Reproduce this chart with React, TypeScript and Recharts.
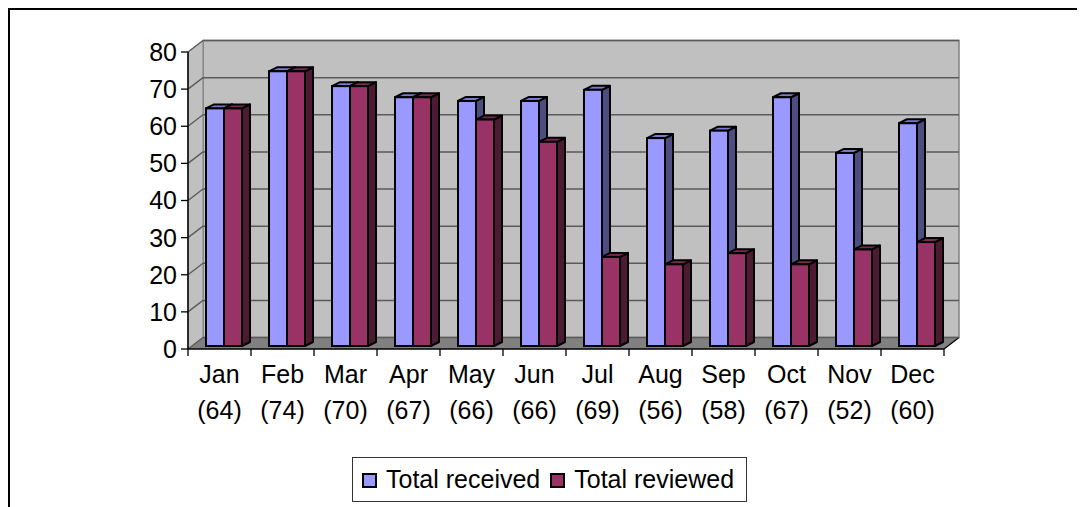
import React from 'react';
import { BarChart, Bar, XAxis, YAxis, CartesianGrid } from 'recharts';

// ---- data ----
const months = ['Jan', 'Feb', 'Mar', 'Apr', 'May', 'Jun', 'Jul', 'Aug', 'Sep', 'Oct', 'Nov', 'Dec'];
const totalReceived = [64, 74, 70, 67, 66, 66, 69, 56, 58, 67, 52, 60];
const totalReviewed = [64, 74, 70, 67, 61, 55, 24, 22, 25, 22, 26, 28];
const yTicks = [0, 10, 20, 30, 40, 50, 60, 70, 80];
const seriesNames = ['Total received', 'Total reviewed'];

const data = months.map((m, i) => ({ month: m, received: totalReceived[i], reviewed: totalReviewed[i] }));

// ---- layout ----
const CHART_W = 1077;
const CHART_H = 499;
const PLOT_LEFT = 180;
const PLOT_TOP = 44;
const PLOT_W = 756;
const PLOT_H = 297;
const YAXIS_W = 60;
const XAXIS_H = 40;
const WALL_DX = 15;
const WALL_DY = -11.5;
const BAR_SHIFT_X = 4;
const BAR_SHIFT_Y = -3;
const BAR_DX = 8;
const BAR_DY = -4;
const FONT = '"Liberation Sans", Arial, sans-serif';
const FONT_SIZE = 25;

const colors = {
  received: { front: '#9999FF', top: '#7A7AD0', side: '#4D4D80' },
  reviewed: { front: '#993366', top: '#7A2952', side: '#4D1A33' },
};

const makeShape = (c: { front: string; top: string; side: string }) => (props: any) => {
  const { x, y, width, height } = props;
  if (width == null || height == null || height <= 0) return <g />;
  const X = x + BAR_SHIFT_X;
  const Y = y + BAR_SHIFT_Y;
  const w = width;
  const h = height;
  const sw = 2;
  return (
    <g>
      <polygon
        points={`${X + w},${Y} ${X + w + BAR_DX},${Y + BAR_DY} ${X + w + BAR_DX},${Y + h + BAR_DY} ${X + w},${Y + h}`}
        fill={c.side}
        stroke="#000"
        strokeWidth={sw}
        strokeLinejoin="round"
      />
      <polygon
        points={`${X},${Y} ${X + BAR_DX},${Y + BAR_DY} ${X + w + BAR_DX},${Y + BAR_DY} ${X + w},${Y}`}
        fill={c.top}
        stroke="#000"
        strokeWidth={sw}
        strokeLinejoin="round"
      />
      <rect x={X} y={Y} width={w} height={h} fill={c.front} stroke="#000" strokeWidth={sw} />
    </g>
  );
};

const ReceivedShape = makeShape(colors.received);
const ReviewedShape = makeShape(colors.reviewed);

const GridLine = (props: any) => {
  const { x1, y1, x2, y2 } = props;
  return (
    <g>
      <line x1={x1} y1={y1} x2={x1 + WALL_DX} y2={y1 + WALL_DY} stroke="#5A5A5A" strokeWidth={1.3} />
      <line x1={x1 + WALL_DX} y1={y1 + WALL_DY} x2={x2 + WALL_DX} y2={y2 + WALL_DY} stroke="#5A5A5A" strokeWidth={1.5} />
    </g>
  );
};

const XTick = (props: any) => {
  const { x, y, payload } = props;
  const i = payload.index != null ? payload.index : months.indexOf(payload.value);
  const band = PLOT_W / months.length;
  return (
    <g>
      <line x1={x - band / 2} y1={y} x2={x - band / 2} y2={y + 7} stroke="#000" strokeWidth={1.3} />
      {i === months.length - 1 && (
        <line x1={x + band / 2} y1={y} x2={x + band / 2} y2={y + 7} stroke="#000" strokeWidth={1.3} />
      )}
      <text x={x} y={y + 34} textAnchor="middle" fontFamily={FONT} fontSize={FONT_SIZE} fill="#000">
        {payload.value}
      </text>
      <text x={x} y={y + 70} textAnchor="middle" fontFamily={FONT} fontSize={FONT_SIZE} fill="#000">
        {`(${totalReceived[i]})`}
      </text>
    </g>
  );
};

const Background3D = () => {
  const L = PLOT_LEFT;
  const T = PLOT_TOP;
  const W = PLOT_W;
  const H = PLOT_H;
  return (
    <svg width={CHART_W} height={CHART_H} style={{ position: 'absolute', left: 0, top: 0 }}>
      <rect x={L + WALL_DX} y={T + WALL_DY} width={W} height={H} fill="#C0C0C0" stroke="#808080" strokeWidth={1.5} />
      <polygon
        points={`${L},${T + H} ${L},${T} ${L + WALL_DX},${T + WALL_DY} ${L + WALL_DX},${T + H + WALL_DY}`}
        fill="#C0C0C0"
        stroke="#808080"
        strokeWidth={1}
      />
      <polygon
        points={`${L},${T + H} ${L + WALL_DX},${T + H + WALL_DY} ${L + W + WALL_DX},${T + H + WALL_DY} ${L + W},${T + H}`}
        fill="#808080"
      />
      <line x1={L + W} y1={T + H} x2={L + W + WALL_DX} y2={T + H + WALL_DY} stroke="#000" strokeWidth={1.3} />
    </svg>
  );
};

const LegendBox = () => {
  const items = [
    { name: seriesNames[0], color: colors.received.front },
    { name: seriesNames[1], color: colors.reviewed.front },
  ];
  return (
    <div
      style={{
        position: 'absolute',
        left: 344,
        top: 449,
        width: 395,
        height: 45,
        border: '1px solid #333',
        boxSizing: 'border-box',
        display: 'flex',
        alignItems: 'center',
        paddingLeft: 9,
        fontFamily: FONT,
        fontSize: FONT_SIZE,
        color: '#000',
        background: '#fff',
        zIndex: 2,
      }}
    >
      {items.map((it, k) => (
        <div key={it.name} style={{ display: 'flex', alignItems: 'center', marginRight: k === 0 ? 10 : 0 }}>
          <div
            style={{
              width: 15,
              height: 15,
              background: it.color,
              border: '2px solid #000',
              boxSizing: 'border-box',
              marginRight: 9,
              marginTop: 2,
            }}
          />
          <span style={{ whiteSpace: 'nowrap', lineHeight: '25px' }}>{it.name}</span>
        </div>
      ))}
    </div>
  );
};

export default function App() {
  return (
    <div style={{ position: 'relative', width: CHART_W, height: CHART_H, background: '#fff' }}>
      <Background3D />
      <div style={{ position: 'absolute', left: 0, top: 0, zIndex: 1 }}>
        <BarChart
          width={CHART_W}
          height={CHART_H}
          data={data}
          margin={{
            top: PLOT_TOP,
            right: CHART_W - PLOT_LEFT - PLOT_W,
            left: PLOT_LEFT - YAXIS_W,
            bottom: CHART_H - PLOT_TOP - PLOT_H - XAXIS_H,
          }}
          barGap={0}
          barSize={18}
        >
          <CartesianGrid vertical={false} horizontal={GridLine as any} />
          <XAxis
            dataKey="month"
            height={XAXIS_H}
            tickLine={false}
            tickSize={0}
            tickMargin={0}
            axisLine={{ stroke: '#000', strokeWidth: 1.5 }}
            tick={<XTick />}
            interval={0}
          />
          <YAxis
            width={YAXIS_W}
            domain={[0, 80]}
            ticks={yTicks}
            interval={0}
            tickSize={7}
            tickMargin={4}
            axisLine={{ stroke: '#000', strokeWidth: 1.5 }}
            tickLine={{ stroke: '#000', strokeWidth: 1.3 }}
            tick={{ fill: '#000', fontSize: FONT_SIZE, fontFamily: FONT }}
          />
          <Bar dataKey="received" name={seriesNames[0]} fill={colors.received.front} shape={ReceivedShape} isAnimationActive={false} />
          <Bar dataKey="reviewed" name={seriesNames[1]} fill={colors.reviewed.front} shape={ReviewedShape} isAnimationActive={false} />
        </BarChart>
      </div>
      <LegendBox />
      <div
        style={{
          position: 'absolute',
          left: 0,
          top: 0,
          width: CHART_W,
          height: CHART_H,
          borderTop: '2px solid #000',
          borderLeft: '2px solid #000',
          boxSizing: 'border-box',
          pointerEvents: 'none',
          zIndex: 3,
        }}
      />
    </div>
  );
}
